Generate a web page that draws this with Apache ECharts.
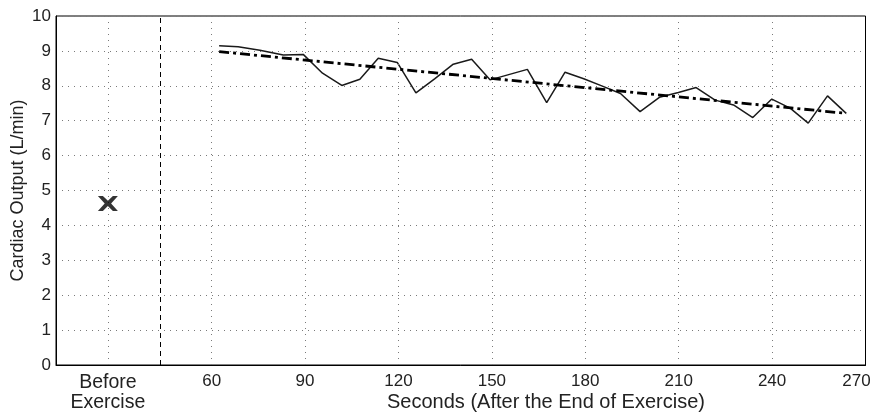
<!DOCTYPE html>
<html>
<head>
<meta charset="utf-8">
<script src="https://cdn.jsdelivr.net/npm/echarts@6/dist/echarts.min.js"></script>
<style>
html,body{margin:0;padding:0;background:#fff;}
#chart{width:870px;height:420px;}
</style>
</head>
<body>
<div id="chart"></div>
<script>
// ---- data ----
const timeSec = [62.4, 68.5, 75.5, 83.0, 89.4, 95.6, 101.8, 107.6, 113.5, 119.6, 125.6, 131.6, 137.6, 143.5, 149.4, 155.4, 161.4, 167.6, 173.5, 179.5, 185.5, 191.3, 197.6, 203.8, 209.9, 215.6, 221.7, 227.6, 233.8, 239.9, 245.8, 251.6, 257.8, 263.8];
const cardiacOutput = [9.15, 9.12, 9.02, 8.88, 8.90, 8.36, 8.01, 8.19, 8.79, 8.67, 7.80, 8.20, 8.62, 8.76, 8.17, 8.32, 8.47, 7.52, 8.39, 8.20, 7.99, 7.78, 7.26, 7.67, 7.81, 7.95, 7.59, 7.45, 7.09, 7.62, 7.36, 6.93, 7.71, 7.21];
const trendX = [62.4, 263.8];
const trendY = [8.98, 7.21];
const beforeX = 26.67;
const beforeY = 4.63;
const separatorX = 43.33;
const xTickValues = [26.67, 60, 90, 120, 150, 180, 210, 240, 270];
const xTickLabels = ['Before\nExercise', '60', '90', '120', '150', '180', '210', '240', '270'];
const yTicks = [0, 1, 2, 3, 4, 5, 6, 7, 8, 9, 10];

const FONT = 'Liberation Sans, Arial, sans-serif';
const chart = echarts.init(document.getElementById('chart'));

const gridLineStyle = {color: '#7a7a7a', width: 1, type: [1, 5]};

chart.setOption({
  animation: false,
  grid: {left: 56, right: 4.5, top: 16, bottom: 55, show: true, borderColor: '#000', borderWidth: 1,
         containLabel: false, outerBoundsMode: 'none'},
  xAxis: {
    type: 'value', min: 10, max: 270,
    axisLine: {show: true, onZero: false, lineStyle: {color: '#000', width: 1}},
    axisTick: {show: false, customValues: xTickValues},
    axisLabel: {
      customValues: xTickValues, hideOverlap: false,
      fontFamily: FONT, fontSize: 17, color: '#222', margin: 8,
      formatter: function (v) {
        const i = xTickValues.findIndex(t => Math.abs(t - v) < 0.01);
        if (i === 0) return '{b|Before}\n{b|Exercise}';
        if (i === xTickValues.length - 1) return '{e|' + xTickLabels[i] + '}';
        return i >= 0 ? xTickLabels[i] : '';
      },
      rich: {
        b: {fontFamily: FONT, fontSize: 19.5, lineHeight: 20, color: '#222'},
        e: {fontFamily: FONT, fontSize: 17, color: '#222', padding: [0, 18, 0, 0]}
      }
    },
    splitLine: {show: false}
  },
  yAxis: {
    type: 'value', min: 0, max: 10, interval: 1,
    name: 'Cardiac Output (L/min)', nameLocation: 'middle', nameGap: 29, nameMoveOverlap: false,
    nameTextStyle: {fontFamily: FONT, fontSize: 18, color: '#222'},
    axisLine: {show: true, lineStyle: {color: '#000', width: 1}},
    axisTick: {show: false},
    axisLabel: {fontFamily: FONT, fontSize: 17, color: '#222', margin: 5},
    splitLine: {show: true, lineStyle: gridLineStyle}
  },
  graphic: [{
    type: 'text', left: 387, top: 392,
    style: {text: 'Seconds (After the End of Exercise)', font: '20px ' + FONT, fill: '#222'}
  }],
  series: [
    {
      type: 'line', data: [], silent: true,
      markLine: {
        symbol: 'none', silent: true, label: {show: false},
        lineStyle: gridLineStyle,
        data: xTickValues.slice(0, -1).map(v => ({xAxis: v}))
      }
    },
    {
      type: 'line', data: [], silent: true,
      markLine: {
        symbol: 'none', silent: true, label: {show: false},
        lineStyle: {color: '#000', width: 1, type: [5, 4]},
        data: [{xAxis: separatorX}]
      }
    },
    {
      type: 'line', data: timeSec.map((t, i) => [t, cardiacOutput[i]]),
      showSymbol: false, lineStyle: {color: '#1a1a1a', width: 1.5}, z: 3
    },
    {
      type: 'line', data: trendX.map((t, i) => [t, trendY[i]]),
      showSymbol: false, lineStyle: {color: '#000', width: 2.8, type: [10, 4, 3, 4]}, z: 4
    },
    {
      type: 'scatter', data: [[beforeX, beforeY]],
      symbol: 'path://M0,0 H5 L10,4.6 L15,0 H20 L13.2,7 L20,14 H15 L10,9.4 L5,14 H0 L6.8,7 Z',
      symbolSize: [20, 15], itemStyle: {color: '#000'}, z: 5
    }
  ]
});
</script>
</body>
</html>
